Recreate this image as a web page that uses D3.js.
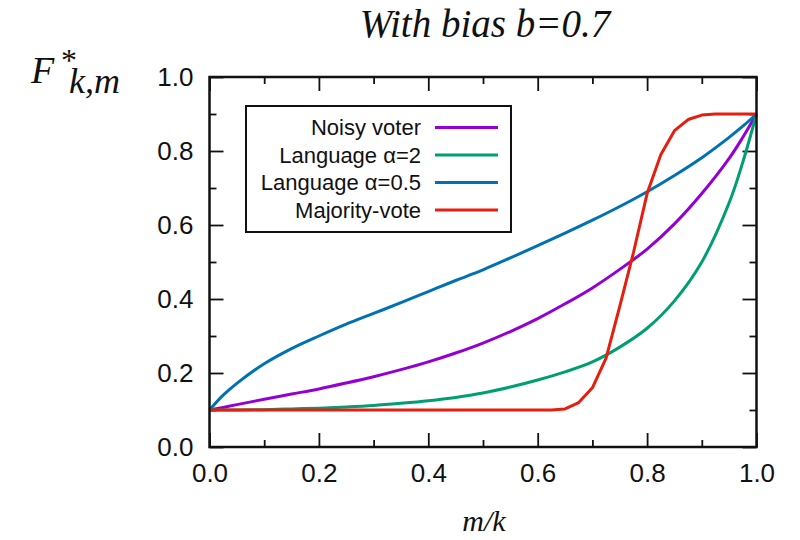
<!DOCTYPE html>
<html lang="en">
<head>
<meta charset="UTF-8">
<title>With bias b=0.7</title>
<script src="https://d3js.org/d3.v7.min.js"></script>
<style>
  html, body { margin: 0; padding: 0; background: #fff; }
  svg { display: block; }
</style>
</head>
<body>
<svg width="800" height="540"></svg>
<script>
// x positions (m/k) for the smooth curves
const xs = [0, 0.025, 0.05, 0.1, 0.15, 0.2, 0.25, 0.3, 0.35, 0.4, 0.45, 0.5,
            0.55, 0.6, 0.65, 0.7, 0.75, 0.8, 0.85, 0.9, 0.95, 0.975, 1.0];

const noisyVoter = [0.1, 0.107, 0.1145, 0.129, 0.143, 0.157, 0.173, 0.19, 0.209, 0.23, 0.254, 0.281,
                    0.312, 0.347, 0.387, 0.43, 0.48, 0.535, 0.603, 0.685, 0.78, 0.837, 0.9];
const langAlpha2 = [0.1, 0.1, 0.1, 0.101, 0.103, 0.105, 0.108, 0.112, 0.118, 0.125, 0.134, 0.146,
                    0.162, 0.181, 0.203, 0.23, 0.27, 0.321, 0.395, 0.50, 0.66, 0.77, 0.9];
const langAlpha05 = [0.1, 0.14, 0.172, 0.225, 0.266, 0.30, 0.332, 0.361, 0.39, 0.42, 0.45, 0.479,
                     0.511, 0.544, 0.578, 0.613, 0.65, 0.69, 0.734, 0.782, 0.837, 0.867, 0.9];

// majority-vote is sampled more finely (step 0.025) and drawn as straight segments
const xsMajority = [0, 0.025, 0.05, 0.075, 0.1, 0.125, 0.15, 0.175, 0.2, 0.225, 0.25, 0.275, 0.3,
                    0.325, 0.35, 0.375, 0.4, 0.425, 0.45, 0.475, 0.5, 0.525, 0.55, 0.575, 0.6,
                    0.625, 0.65, 0.675, 0.7, 0.725, 0.75, 0.775, 0.8, 0.825, 0.85, 0.875, 0.9,
                    0.925, 0.95, 0.975, 1.0];
const majorityVote = [0.1, 0.1, 0.1, 0.1, 0.1, 0.1, 0.1, 0.1, 0.1, 0.1, 0.1, 0.1, 0.1,
                      0.1, 0.1, 0.1, 0.1, 0.1, 0.1, 0.1, 0.1, 0.1, 0.1, 0.1, 0.1,
                      0.1, 0.103, 0.12, 0.16, 0.24, 0.38, 0.525, 0.685, 0.79, 0.855, 0.885, 0.897,
                      0.9, 0.9, 0.9, 0.9];

const seriesNames = ["Noisy voter", "Language \u03b1=2", "Language \u03b1=0.5", "Majority-vote"];
const seriesColors = ["#9400d3", "#009e73", "#0072b2", "#e51e10"];

const xTickLabels = [0, 0.2, 0.4, 0.6, 0.8, 1.0];
const yTickLabels = [0, 0.2, 0.4, 0.6, 0.8, 1.0];
const minorTicks = [0.1, 0.3, 0.5, 0.7, 0.9];

const svg = d3.select("svg");
const plotLeft = 209.5, plotRight = 756.5, plotTop = 77, plotBottom = 447;

const x = d3.scaleLinear().domain([0, 1]).range([plotLeft, plotRight]);
const y = d3.scaleLinear().domain([0, 1]).range([plotBottom, plotTop]);

const serif = "'Liberation Serif', 'DejaVu Serif', serif";
const sans = "'Liberation Sans', Arial, sans-serif";

// 축 (ticks inward on all four sides)
function drawAxis(axisFn, scale, transform, values, size, labels) {
    const g = svg.append("g")
        .attr("transform", transform)
        .call(axisFn(scale).tickValues(values).tickSizeInner(-size).tickSizeOuter(0)
            .tickFormat(labels ? d3.format(".1f") : ""));
    g.select(".domain").remove();
    g.selectAll("line").attr("stroke", "#111").attr("stroke-width", 1.8);
    g.selectAll("text")
        .style("font-family", sans)
        .style("font-size", "26px")
        .attr("fill", "#111");
    return g;
}

// bottom
const gxb = drawAxis(d3.axisBottom, x, `translate(0,${plotBottom})`, xTickLabels, 14, true);
gxb.selectAll("text").attr("y", 17).attr("dy", "0.71em");
drawAxis(d3.axisBottom, x, `translate(0,${plotBottom})`, minorTicks, 7, false);
// top
drawAxis(d3.axisTop, x, `translate(0,${plotTop})`, xTickLabels, 14, false);
drawAxis(d3.axisTop, x, `translate(0,${plotTop})`, minorTicks, 7, false);
// left
const gyl = drawAxis(d3.axisLeft, y, `translate(${plotLeft},0)`, yTickLabels, 14, true);
gyl.selectAll("text").attr("x", -16);
drawAxis(d3.axisLeft, y, `translate(${plotLeft},0)`, minorTicks, 7, false);
// right
drawAxis(d3.axisRight, y, `translate(${plotRight},0)`, yTickLabels, 14, false);
drawAxis(d3.axisRight, y, `translate(${plotRight},0)`, minorTicks, 7, false);

// curves
const smooth = d3.line().x(d => x(d[0])).y(d => y(d[1])).curve(d3.curveCatmullRom.alpha(0.5));
const straight = d3.line().x(d => x(d[0])).y(d => y(d[1]));

const curveData = [
    { pts: d3.zip(xs, noisyVoter), color: seriesColors[0], gen: smooth },
    { pts: d3.zip(xs, langAlpha2), color: seriesColors[1], gen: smooth },
    { pts: d3.zip(xs, langAlpha05), color: seriesColors[2], gen: smooth },
    { pts: d3.zip(xsMajority, majorityVote), color: seriesColors[3], gen: straight }
];

svg.append("g").selectAll("path")
    .data(curveData)
    .enter()
    .append("path")
    .attr("d", d => d.gen(d.pts))
    .attr("fill", "none")
    .attr("stroke", d => d.color)
    .attr("stroke-width", 3)
    .attr("stroke-linejoin", "round");

// frame
svg.append("rect")
    .attr("x", plotLeft).attr("y", plotTop)
    .attr("width", plotRight - plotLeft).attr("height", plotBottom - plotTop)
    .attr("fill", "none").attr("stroke", "#111").attr("stroke-width", 2.5);

// legend
const legend = svg.append("g");
legend.append("rect")
    .attr("x", 246).attr("y", 106).attr("width", 265).attr("height", 126)
    .attr("fill", "#fff").attr("stroke", "#111").attr("stroke-width", 2);

const legendRow = d3.scalePoint().domain(seriesNames).range([127.5, 210]);
seriesNames.forEach((name, i) => {
    legend.append("text")
        .attr("x", 421).attr("y", legendRow(name))
        .attr("dy", "0.35em")
        .attr("text-anchor", "end")
        .style("font-family", sans)
        .style("font-size", "22px")
        .attr("fill", "#111")
        .text(name);
    legend.append("line")
        .attr("x1", 435).attr("x2", 498)
        .attr("y1", legendRow(name)).attr("y2", legendRow(name))
        .attr("stroke", seriesColors[i]).attr("stroke-width", 3);
});

// title
svg.append("text")
    .attr("x", 485).attr("y", 37)
    .attr("text-anchor", "middle")
    .style("font-family", serif).style("font-style", "italic").style("font-size", "39px")
    .attr("fill", "#111")
    .text("With bias b=0.7");

// y축 레이블: F*_{k,m} (one text element, tspans for super/subscript)
const yl = svg.append("text")
    .attr("x", 31).attr("y", 83)
    .style("font-family", serif).style("font-style", "italic").attr("fill", "#111");
yl.append("tspan").style("font-size", "38px").text("F");
yl.append("tspan").attr("x", 61).attr("dy", -12)
    .style("font-size", "32px").style("font-style", "normal").text("*");
yl.append("tspan").attr("x", 69).attr("dy", 22).style("font-size", "36px").text("k,m");

// x축 레이블
svg.append("text")
    .attr("x", 484).attr("y", 531)
    .attr("text-anchor", "middle")
    .style("font-family", serif).style("font-style", "italic").style("font-size", "30px")
    .attr("fill", "#111")
    .text("m/k");
</script>
</body>
</html>
